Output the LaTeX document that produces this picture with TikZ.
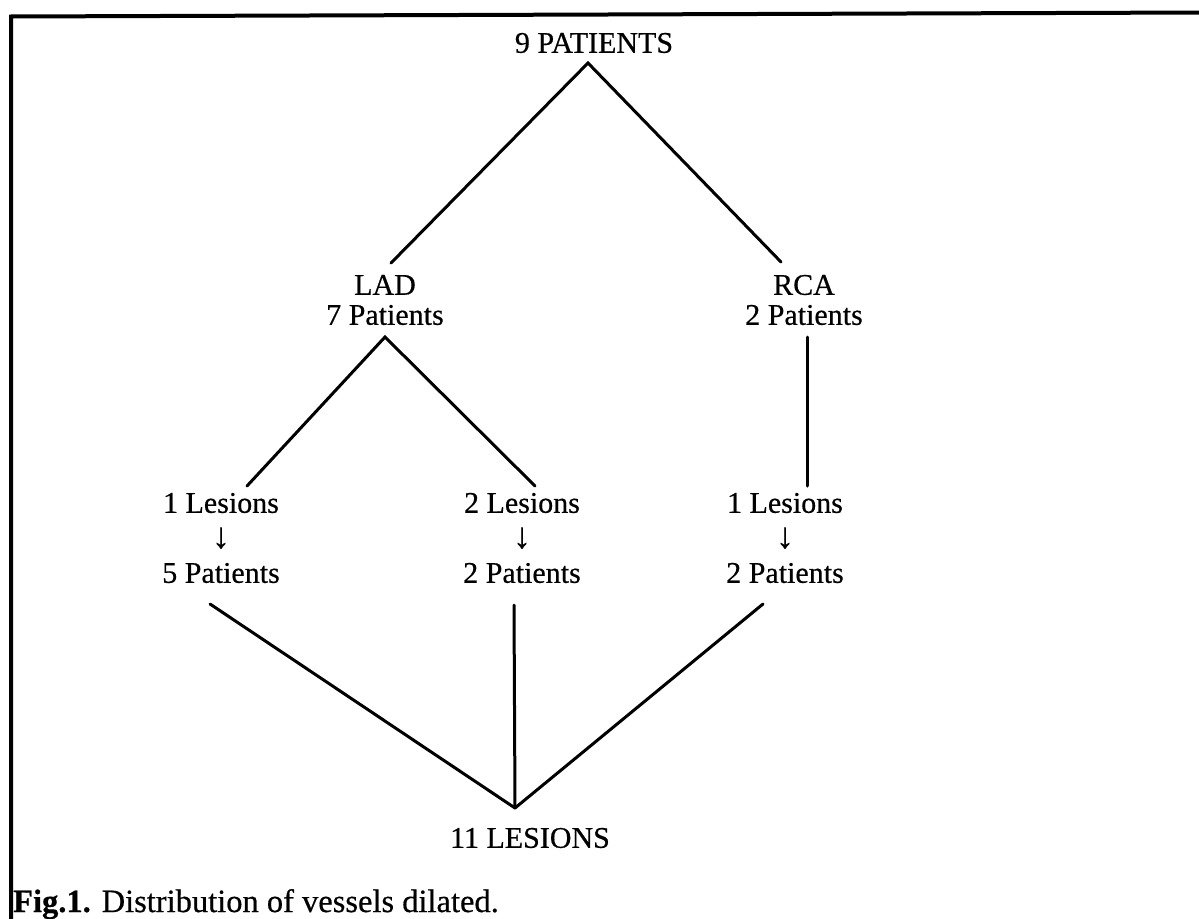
\documentclass[tikz,border=0pt]{standalone}
\usepackage{fontspec}
\setmainfont[FakeBold=0.5]{Liberation Serif}
\newcommand{\downarr}{{\fontsize{36}{35}\selectfont ↓}}
\begin{document}
\begin{tikzpicture}[x=1pt,y=-1pt,
  lbl/.style={font=\fontsize{30}{30}\selectfont, inner sep=0pt, align=center},
  lesion/.style={font=\fontsize{30}{35}\selectfont, inner sep=0pt, align=center},
  edge/.style={line width=3pt, line cap=round},
  frameline/.style={line width=4pt}]
\useasboundingbox (0,0) rectangle (1199,918);
\fill[white] (0,0) rectangle (1199,918);
\draw[frameline] (1205,12.5) -- (11,16.5) -- (11,930);

\node[lbl] (top) at (594,43) {9 PATIENTS};
\node[lbl] (lad) at (385,300) {LAD\\7 Patients};
\node[lbl] (rca) at (804,300) {RCA\\2 Patients};
\node[lesion] (a) at (221,538) {1 Lesions\\\downarr\\5 Patients};
\node[lesion] (b) at (522,538) {2 Lesions\\\downarr\\2 Patients};
\node[lesion] (c) at (785,538) {1 Lesions\\\downarr\\2 Patients};
\node[lbl] (bot) at (530,838) {11 LESIONS};
\node[anchor=base west, font=\fontsize{32.5}{34}\selectfont, inner sep=0pt] (cap) at (13,912) {\textbf{Fig.1.} Distribution of vessels dilated.};

\coordinate (topA) at (588,63);
\coordinate (ladT) at (391,263);
\coordinate (rcaT) at (781,262);
\coordinate (ladB) at (385,337);
\coordinate (aT) at (247,486);
\coordinate (bT) at (535,486);
\coordinate (rcaB) at (807,337);
\coordinate (cT) at (807,486);
\coordinate (aB) at (210,604);
\coordinate (bB) at (514,605);
\coordinate (cB) at (763,604);
\coordinate (botA) at (515,808);

\draw[edge] (ladT) -- (topA) -- (rcaT);
\draw[edge] (aT) -- (ladB) -- (bT);
\draw[edge] (rcaB) -- (cT);
\draw[edge] (aB) -- (botA);
\draw[edge] (bB) -- (botA);
\draw[edge] (cB) -- (botA);
\end{tikzpicture}
\end{document}
